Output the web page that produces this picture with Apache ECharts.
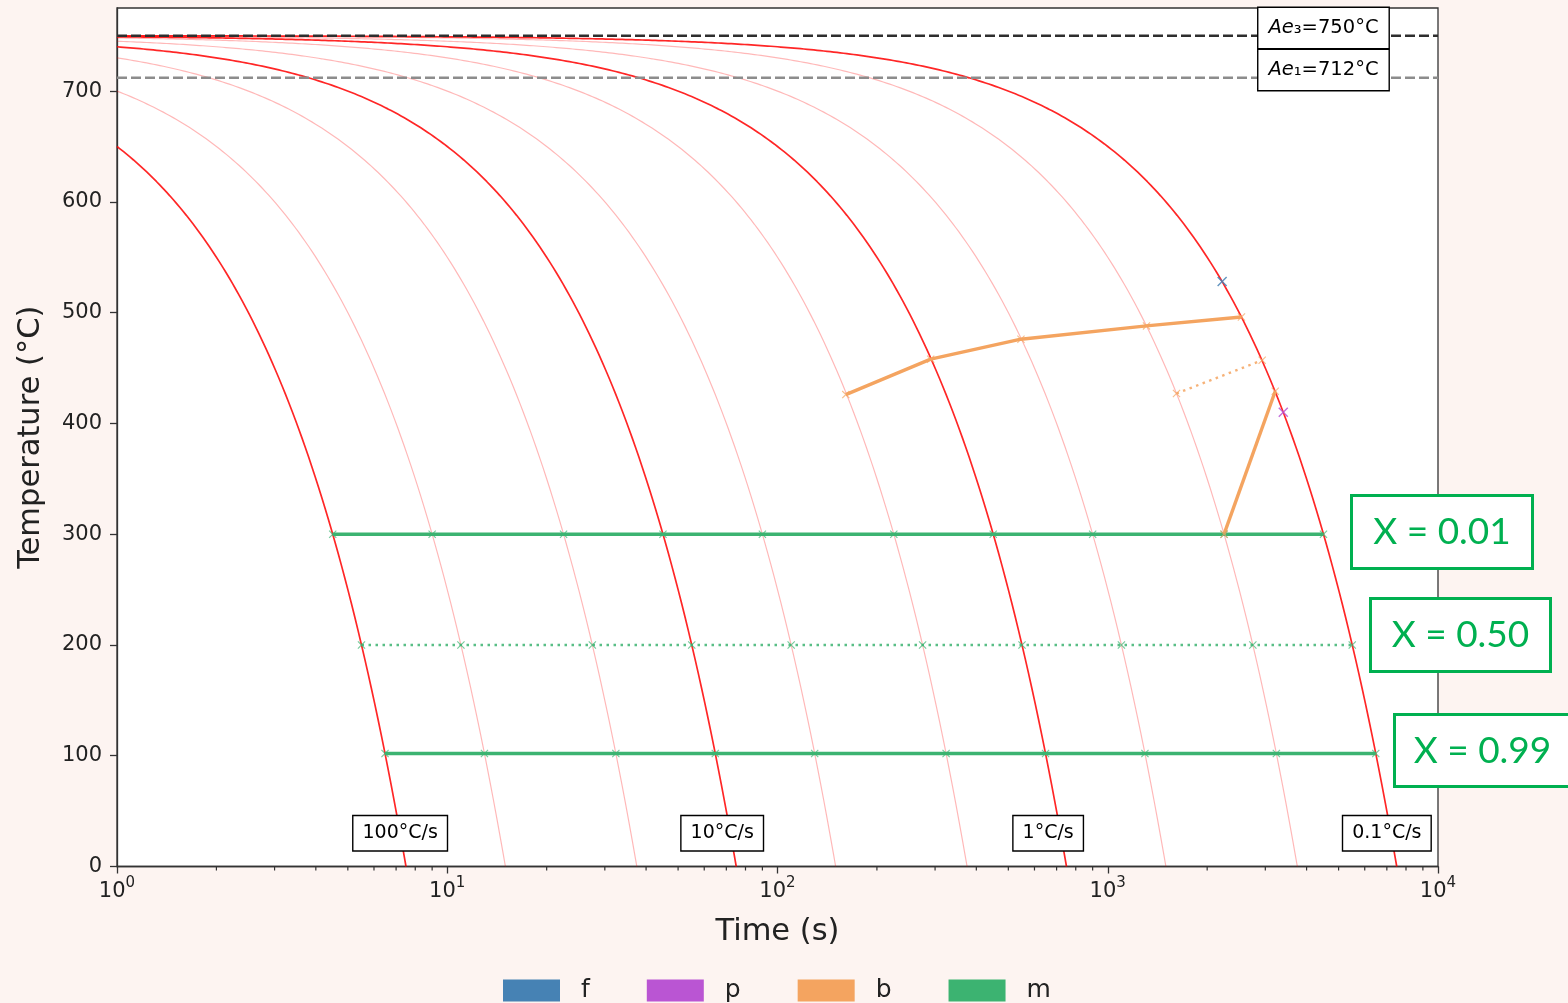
<!DOCTYPE html>
<html><head><meta charset="utf-8">
<script src="https://cdn.jsdelivr.net/npm/echarts@6/dist/echarts.min.js"></script>
<style>html,body{margin:0;padding:0;background:#fdf4f1;}#c{width:1568px;height:1003px;}</style>
</head><body><div id="c"></div>
<script>
// ---------------- data ----------------
const startTemp = 750;                                   // cooling starts at Ae3
const coolingRates = [100, 50, 20, 10, 5, 2, 1, 0.5, 0.2, 0.1];   // °C/s
const labelledRates = [100, 10, 1, 0.1];                 // drawn dark red
const rateLabels = ['100°C/s', '10°C/s', '1°C/s', '0.1°C/s'];
const rateLabelTimes = [7.2, 68, 660, 7000];
const rateLabelTemps = [30, 30, 30, 30];
const ae3Temp = 750, ae1Temp = 712;
const aeLabelTimes = [4500, 4500];
const aeLabelTemps = [757, 719];
const ferritePoints = [[2220, 528]];
const pearlitePoints = [[3400, 410]];
const bainite01 = [[161, 426], [291, 458], [546, 476], [1310, 488], [2540, 496]];
const bainite50 = [[1615, 427], [2935, 457]];
const bainite99 = [[3215, 429], [2250, 300]];
const mart01Times = [4.5, 9, 22.5, 45, 90, 225, 450, 900, 2250, 4500];
const mart01Temp = 300;
const mart50Times = [5.5, 11, 27.5, 55, 110, 275, 550, 1100, 2750, 5500];
const mart50Temp = 200;
const mart99Times = [6.48, 12.96, 32.4, 64.8, 129.6, 324, 648, 1296, 3240, 6480];
const mart99Temp = 102;
const yTicks = [0, 100, 200, 300, 400, 500, 600, 700];
const xMinorTicks = [2,3,4,5,6,7,8,9,20,30,40,50,60,70,80,90,200,300,400,500,600,700,800,900,2000,3000,4000,5000,6000,7000,8000,9000];
const legendNames = ['f', 'p', 'b', 'm'];
const legendColors = ['#4682b4', '#ba55d3', '#f4a460', '#3cb371'];
const xBoxTexts = ['X = 0.01', 'X = 0.50', 'X = 0.99'];

// ---------------- build ----------------
const FONT = 'DejaVu Sans';
const XPATH = 'path://M0,1L1,0L5,4L9,0L10,1L6,5L10,9L9,10L5,6L1,10L0,9L4,5Z';

// constant-rate cooling curve T = startTemp - rate * t, sampled on a log-time grid
function coolingCurve(rate) {
  const tEnd = startTemp / rate;
  const pts = [];
  const uEnd = Math.log10(tEnd);
  for (let u = 0; u < uEnd; u += 0.01) {
    const t = Math.pow(10, u);
    pts.push([t, startTemp - rate * t]);
  }
  pts.push([tEnd, 0]);
  return pts;
}

const series = [];
coolingRates.forEach(r => {
  const dark = labelledRates.indexOf(r) >= 0;
  series.push({
    type: 'line', name: 'cool' + r, data: coolingCurve(r), showSymbol: false, silent: true,
    lineStyle: { color: dark ? 'rgba(255,0,0,0.85)' : 'rgba(255,0,0,0.28)', width: dark ? 1.7 : 1.2 },
    z: 2
  });
});
// Ae lines
series.push({ type: 'line', name: 'ae3', data: [[1, ae3Temp], [10000, ae3Temp]], showSymbol: false, silent: true,
  lineStyle: { color: '#2e2e2e', width: 2.6, type: [10, 4] }, z: 3 });
series.push({ type: 'line', name: 'ae1', data: [[1, ae1Temp], [10000, ae1Temp]], showSymbol: false, silent: true,
  lineStyle: { color: '#8c8c8c', width: 2.6, type: [10, 4] }, z: 3 });

function transLine(name, data, color, dotted) {
  return { type: 'line', name: name, data: data, symbol: XPATH, symbolSize: 8, showSymbol: true, silent: true,
    itemStyle: { color: color, opacity: 0.7 },
    lineStyle: { color: color, width: dotted ? 2.4 : 3.4, type: dotted ? [2.5, 4.5] : 'solid', opacity: dotted ? 0.85 : 1 },
    z: 4 };
}
const mkM = (times, T) => times.map(t => [t, T]);
series.push(transLine('m', mkM(mart01Times, mart01Temp), '#3cb371', false));
series.push(transLine('m', mkM(mart50Times, mart50Temp), '#3cb371', true));
series.push(transLine('m', mkM(mart99Times, mart99Temp), '#3cb371', false));
series.push(transLine('b', bainite01, '#f4a460', false));
series.push(transLine('b', bainite50, '#f4a460', true));
series.push(transLine('b', bainite99, '#f4a460', false));
series.push({ type: 'scatter', name: 'f', data: ferritePoints, symbol: XPATH, symbolSize: 10, silent: true,
  itemStyle: { color: '#4682b4', opacity: 0.85 }, z: 5 });
series.push({ type: 'scatter', name: 'p', data: pearlitePoints, symbol: XPATH, symbolSize: 10, silent: true,
  itemStyle: { color: '#ba55d3', opacity: 0.85 }, z: 5 });

// rate labels
series.push({ type: 'scatter', name: 'rateLabels', symbolSize: 0, silent: true, z: 6,
  data: rateLabelTimes.map((t, i) => ({ value: [t, rateLabelTemps[i]], label: { formatter: rateLabels[i] } })),
  label: { show: true, position: 'inside', fontFamily: FONT, fontSize: 19, color: '#000', opacity: 1, lineHeight: 22,
    backgroundColor: '#fff', borderColor: '#000', borderWidth: 1.4, padding: [6, 9, 6, 9] } });
// Ae labels
series.push({ type: 'scatter', name: 'aeLabels', symbolSize: 0, silent: true, z: 6,
  data: [
    { value: [aeLabelTimes[0], aeLabelTemps[0]], label: { formatter: '{i|Ae}{n|₃=' + ae3Temp + '°C}' } },
    { value: [aeLabelTimes[1], aeLabelTemps[1]], label: { formatter: '{i|Ae}{n|₁=' + ae1Temp + '°C}' } }
  ],
  label: { show: true, position: 'inside', fontFamily: FONT, fontSize: 19.5, color: '#000', opacity: 1,
    backgroundColor: '#fff', borderColor: '#000', borderWidth: 1.4, padding: [8, 10, 8, 10],
    rich: { i: { fontFamily: FONT, fontSize: 19.5, fontStyle: 'italic', color: '#000', lineHeight: 24 },
            n: { fontFamily: FONT, fontSize: 19.5, color: '#000', lineHeight: 24 } } } });
// minor ticks on the log axis
series.push({ type: 'custom', name: 'minorTicks', silent: true, clip: false, z: 10,
  data: xMinorTicks.map(v => [v, 0]),
  renderItem: function (params, api) {
    const p = api.coord([api.value(0), 0]);
    return { type: 'line', shape: { x1: p[0], y1: p[1], x2: p[0], y2: p[1] + 4 },
      style: { stroke: '#333', lineWidth: 1.2 } };
  } });

const option = {
  backgroundColor: '#fdf4f1',
  animation: false,
  grid: { left: 117, right: 130, top: 8, bottom: 136.5, show: true, backgroundColor: '#fff',
    borderColor: '#333', borderWidth: 1.3 },
  xAxis: {
    type: 'log', logBase: 10, min: 1, max: 10000,
    name: 'Time (s)', nameLocation: 'middle', nameGap: 50,
    nameTextStyle: { fontFamily: FONT, fontSize: 30.5, color: '#222' },
    axisLine: { lineStyle: { color: '#333', width: 1.3 } },
    axisTick: { inside: false, length: 7, lineStyle: { color: '#333', width: 1.3 } },
    splitLine: { show: false }, minorTick: { show: false },
    axisLabel: { margin: 9, color: '#222',
      formatter: v => '{b|10}{s|' + Math.round(Math.log10(v)) + '}',
      rich: { b: { fontFamily: FONT, fontSize: 21, color: '#222', lineHeight: 27, verticalAlign: 'bottom' },
              s: { fontFamily: FONT, fontSize: 15, color: '#222', lineHeight: 27, verticalAlign: 'top' } } }
  },
  yAxis: {
    type: 'value', min: 0, max: 775,
    name: 'Temperature (°C)', nameLocation: 'middle', nameGap: 70,
    nameTextStyle: { fontFamily: FONT, fontSize: 30.5, color: '#222' },
    axisLine: { show: true, lineStyle: { color: '#333', width: 1.3 } },
    axisTick: { show: true, inside: false, length: 7, customValues: yTicks, lineStyle: { color: '#333', width: 1.3 } },
    axisLabel: { customValues: yTicks, margin: 15, fontFamily: FONT, fontSize: 21, color: '#222' },
    splitLine: { show: false }
  },
  legend: {
    data: legendNames.map((n, i) => ({ name: n, itemStyle: { color: legendColors[i], opacity: 1 } })),
    icon: 'rect', left: 503, top: 978, padding: 0, itemWidth: 57, itemHeight: 22, itemGap: 57,
    selectedMode: false,
    textStyle: { fontFamily: FONT, fontSize: 25, color: '#222', padding: [0, 0, 0, 16] }
  },
  graphic: [
    { type: 'group', left: 1350, top: 494, z: 100, children: [
      { type: 'rect', shape: { x: 0, y: 0, width: 181, height: 73 }, style: { fill: '#fff', stroke: '#00b050', lineWidth: 3 } },
      { type: 'text', x: 90.5, y: 37, style: { text: xBoxTexts[0], fontFamily: 'Lato', fontSize: 37, fill: '#00b050', align: 'center', verticalAlign: 'middle' } } ] },
    { type: 'group', left: 1369, top: 597, z: 100, children: [
      { type: 'rect', shape: { x: 0, y: 0, width: 180, height: 73 }, style: { fill: '#fff', stroke: '#00b050', lineWidth: 3 } },
      { type: 'text', x: 90, y: 37, style: { text: xBoxTexts[1], fontFamily: 'Lato', fontSize: 37, fill: '#00b050', align: 'center', verticalAlign: 'middle' } } ] },
    { type: 'group', left: 1393, top: 713, z: 100, children: [
      { type: 'rect', shape: { x: 0, y: 0, width: 180, height: 72 }, style: { fill: '#fff', stroke: '#00b050', lineWidth: 3 } },
      { type: 'text', x: 88, y: 37, style: { text: xBoxTexts[2], fontFamily: 'Lato', fontSize: 37, fill: '#00b050', align: 'center', verticalAlign: 'middle' } } ] }
  ],
  series: series
};
const chart = echarts.init(document.getElementById('c'), null, { renderer: 'canvas' });
chart.setOption(option);
</script></body></html>
